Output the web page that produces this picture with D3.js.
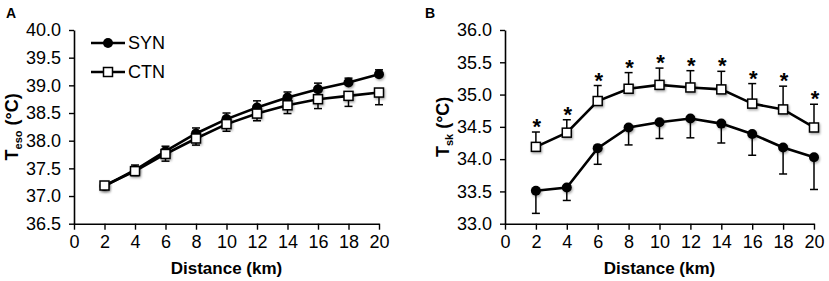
<!DOCTYPE html>
<html>
<head>
<meta charset="utf-8">
<script src="https://cdn.jsdelivr.net/npm/d3@7"></script>
<style>
  body { margin: 0; background: #fff; }
  text { font-family: "Liberation Sans", Arial, sans-serif; fill: #000; }
</style>
</head>
<body>
<svg id="chart"></svg>
<script>
// chart size
let width = 829, height = 281;

// data
const distance = [2, 4, 6, 8, 10, 12, 14, 16, 18, 20];
const distTicks = [0, 2, 4, 6, 8, 10, 12, 14, 16, 18, 20];

// panel A: esophageal temperature
const tesoSYN    = [37.18, 37.47, 37.81, 38.13, 38.39, 38.60, 38.78, 38.93, 39.05, 39.20];
const tesoSYNErr = [0.05, 0.09, 0.09, 0.10, 0.11, 0.12, 0.10, 0.11, 0.08, 0.08];
const tesoCTN    = [37.19, 37.45, 37.76, 38.04, 38.30, 38.49, 38.64, 38.75, 38.81, 38.87];
const tesoCTNErr = [0.04, 0.08, 0.13, 0.12, 0.13, 0.13, 0.15, 0.17, 0.19, 0.22];
const tesoTicks  = [36.5, 37.0, 37.5, 38.0, 38.5, 39.0, 39.5, 40.0];

// panel B: skin temperature
const tskSYN    = [33.51, 33.56, 34.17, 34.49, 34.57, 34.63, 34.55, 34.39, 34.18, 34.03];
const tskSYNErr = [0.35, 0.20, 0.25, 0.27, 0.25, 0.30, 0.30, 0.33, 0.41, 0.50];
const tskCTN    = [34.19, 34.41, 34.90, 35.09, 35.15, 35.11, 35.08, 34.86, 34.77, 34.49];
const tskCTNErr = [0.23, 0.20, 0.24, 0.25, 0.26, 0.26, 0.28, 0.31, 0.36, 0.36];
const tskTicks  = [33.0, 33.5, 34.0, 34.5, 35.0, 35.5, 36.0];
const tskSig    = [true, true, true, true, true, true, true, true, true, true];

const svg = d3.select("#chart")
  .attr("width", width)
  .attr("height", height);

// soft shadow under the markers
const defs = svg.append("defs");
defs.append("filter")
  .attr("id", "shadow")
  .attr("x", "-50%").attr("y", "-50%").attr("width", "200%").attr("height", "200%")
  .append("feDropShadow")
  .attr("dx", 1).attr("dy", 1.5).attr("stdDeviation", 1)
  .attr("flood-color", "#000").attr("flood-opacity", 0.35);

function drawPanel(cfg) {
  let g = svg.append("g");

  let x = d3.scaleLinear().domain([0, 20]).range([cfg.left, cfg.right]);
  let y = d3.scaleLinear().domain(cfg.yDomain).range([cfg.bottom, cfg.top]);

  // axes
  let xAxis = d3.axisBottom(x).tickValues(distTicks).tickSize(6).tickSizeOuter(0).tickPadding(6)
    .tickFormat(d3.format("d"));
  let yAxis = d3.axisLeft(y).tickValues(cfg.yTicks).tickSize(5).tickSizeOuter(0).tickPadding(8)
    .tickFormat(d3.format(".1f"));

  let gx = g.append("g").attr("transform", `translate(0,${cfg.bottom})`).call(xAxis);
  let gy = g.append("g").attr("transform", `translate(${cfg.left},0)`).call(yAxis);
  [gx, gy].forEach(a => {
    a.select(".domain").attr("stroke", "#000").attr("stroke-width", 1.6);
    a.selectAll(".tick line").attr("stroke", "#000").attr("stroke-width", 1.4);
    a.selectAll(".tick text").attr("font-size", 18).attr("font-family", "Liberation Sans, Arial, sans-serif").attr("fill", "#000");
  });

  // axis titles
  g.append("text")
    .attr("x", (cfg.left + cfg.right) / 2)
    .attr("y", 274)
    .attr("text-anchor", "middle")
    .attr("font-size", 17)
    .attr("font-weight", "bold")
    .text("Distance (km)");

  let yt = g.append("text")
    .attr("transform", `translate(${cfg.titleX},${(cfg.top + cfg.bottom) / 2}) rotate(-90)`)
    .attr("text-anchor", "middle")
    .attr("font-size", 18)
    .attr("font-weight", "bold");
  yt.append("tspan").text("T");
  yt.append("tspan").attr("font-size", 11).attr("dy", 4).text(cfg.sub);
  yt.append("tspan").attr("dy", -4).text(" (°C)");

  // panel letter
  g.append("text")
    .attr("x", cfg.letterX)
    .attr("y", 18)
    .attr("font-size", 14)
    .attr("font-weight", "bold")
    .text(cfg.letter);

  let line = d3.line().x((d, i) => x(distance[i])).y(d => y(d));

  cfg.series.forEach(s => {
    // error bars, one direction only
    let eb = g.append("g");
    s.values.forEach((v, i) => {
      let y0 = y(v), y1 = y(v + s.dir * s.err[i]);
      let cx = x(distance[i]);
      eb.append("line").attr("x1", cx).attr("x2", cx).attr("y1", y0).attr("y2", y1)
        .attr("stroke", "#000").attr("stroke-width", 1.5);
      eb.append("line").attr("x1", cx - 4).attr("x2", cx + 4).attr("y1", y1).attr("y2", y1)
        .attr("stroke", "#000").attr("stroke-width", 1.5);
    });
  });

  cfg.series.forEach(s => {
    g.append("path")
      .datum(s.values)
      .attr("d", line)
      .attr("fill", "none")
      .attr("stroke", "#000")
      .attr("stroke-width", 2.6);
  });

  cfg.series.forEach(s => {
    let m = g.append("g").attr("filter", "url(#shadow)");
    s.values.forEach((v, i) => {
      if (s.shape === "circle") {
        m.append("circle").attr("cx", x(distance[i])).attr("cy", y(v)).attr("r", 5)
          .attr("fill", "#000");
      } else {
        m.append("rect").attr("x", x(distance[i]) - 4.5).attr("y", y(v) - 4.5)
          .attr("width", 9).attr("height", 9)
          .attr("fill", "#fff").attr("stroke", "#000").attr("stroke-width", 1.5);
      }
    });
  });

  // significance asterisks above the upper error caps
  if (cfg.sig) {
    let top = cfg.series.find(s => s.dir > 0);
    cfg.sig.forEach((flag, i) => {
      if (!flag) return;
      g.append("text")
        .attr("x", x(distance[i]) + 1)
        .attr("y", y(top.values[i] + top.err[i]) + 2)
        .attr("text-anchor", "middle")
        .attr("font-size", 22)
        .attr("font-weight", "bold")
        .text("*");
    });
  }

  return {x, y, g};
}

drawPanel({
  left: 74, right: 379, top: 30, bottom: 223.7,
  yDomain: [36.5, 40.0], yTicks: tesoTicks,
  titleX: 18, sub: "eso", letter: "A", letterX: 6,
  series: [
    {values: tesoSYN, err: tesoSYNErr, dir: 1, shape: "circle"},
    {values: tesoCTN, err: tesoCTNErr, dir: -1, shape: "square"}
  ]
});

drawPanel({
  left: 505, right: 814, top: 30, bottom: 223.7,
  yDomain: [33.0, 36.0], yTicks: tskTicks,
  titleX: 449, sub: "sk", letter: "B", letterX: 425,
  series: [
    {values: tskSYN, err: tskSYNErr, dir: -1, shape: "circle"},
    {values: tskCTN, err: tskCTNErr, dir: 1, shape: "square"}
  ],
  sig: tskSig
});

// legend in panel A
let legend = svg.append("g");
[{label: "SYN", shape: "circle", y: 43}, {label: "CTN", shape: "square", y: 72}].forEach(d => {
  legend.append("line").attr("x1", 91).attr("x2", 125).attr("y1", d.y).attr("y2", d.y)
    .attr("stroke", "#000").attr("stroke-width", 2.6);
  if (d.shape === "circle") {
    legend.append("circle").attr("cx", 108).attr("cy", d.y).attr("r", 5).attr("fill", "#000");
  } else {
    legend.append("rect").attr("x", 103.5).attr("y", d.y - 4.5).attr("width", 9).attr("height", 9)
      .attr("fill", "#fff").attr("stroke", "#000").attr("stroke-width", 1.5);
  }
  legend.append("text").attr("x", 128).attr("y", d.y).attr("dy", "0.35em")
    .attr("font-size", 18).text(d.label);
});
</script>
</body>
</html>
